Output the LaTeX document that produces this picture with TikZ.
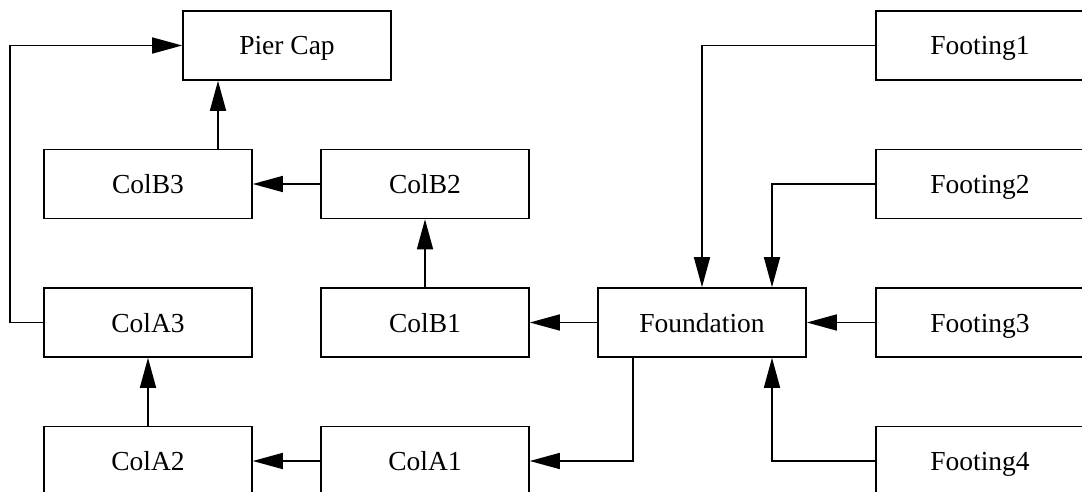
\documentclass[tikz,border=0pt]{standalone}
\usepackage{fontspec}
\setmainfont{Liberation Serif}
\usetikzlibrary{arrows.meta}
\begin{document}
\begin{tikzpicture}[x=1pt,y=-1pt,
  box/.style={draw, line width=1.6pt, minimum width=208pt, minimum height=69pt,
    inner sep=0pt, text height=19pt, text depth=0pt, font=\fontsize{27.5}{32}\selectfont},
  arr/.style={line width=1.6pt, -{Triangle[length=30pt,width=16pt]}},
  ln/.style={line width=1.6pt}]
\useasboundingbox (0,0) rectangle (1082,492);
\clip (0,0) rectangle (1082,492);
\node[box] (piercap) at (287,45.5) {Pier Cap};
\node[box] (colb3) at (148,184) {ColB3};
\node[box] (colb2) at (425,184) {ColB2};
\node[box] (cola3) at (148,322.5) {ColA3};
\node[box] (colb1) at (425,322.5) {ColB1};
\node[box] (foundation) at (702,322.5) {Foundation};
\node[box] (cola2) at (148,461) {ColA2};
\node[box] (cola1) at (425,461) {ColA1};
\node[box] (footing1) at (980,45.5) {Footing1};
\node[box] (footing2) at (980,184) {Footing2};
\node[box] (footing3) at (980,322.5) {Footing3};
\node[box] (footing4) at (980,461) {Footing4};
\coordinate (leftturn) at (10,322.5);
\draw[arr] (colb3.north -| 218,0) -- (piercap.south -| 218,0);
\draw[arr] (colb2.west) -- (colb3.east);
\draw[arr] (colb1.north) -- (colb2.south);
\draw[arr] (cola3.west) -- (leftturn) |- (piercap.west);
\draw[arr] (cola2.north) -- (cola3.south);
\draw[arr] (cola1.west) -- (cola2.east);
\draw[arr] (foundation.west) -- (colb1.east);
\draw[arr] (foundation.south -| 633,0) |- (cola1.east);
\draw[arr] (footing1.west) -| (foundation.north);
\draw[arr] (footing2.west) -| (foundation.north -| 772,0);
\draw[arr] (footing3.west) -- (foundation.east);
\draw[arr] (footing4.west) -| (foundation.south -| 772,0);
\end{tikzpicture}
\end{document}
